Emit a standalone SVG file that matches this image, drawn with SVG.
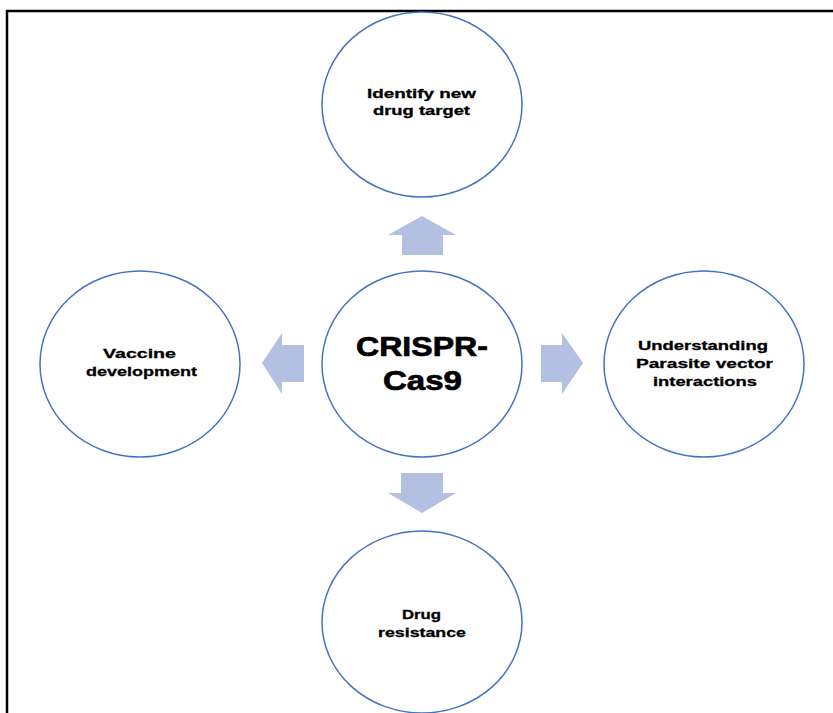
<svg xmlns="http://www.w3.org/2000/svg" width="833" height="713" viewBox="0 0 833 713">
<style>
.node{fill:#fff;stroke:#4472C4;stroke-width:1.5}
.arr{fill:#B3C0E2;stroke:none}
.t{font-family:"Liberation Sans",Arial,sans-serif;font-weight:bold;font-size:13.5px;fill:#000;stroke:#000;stroke-width:0.3}
.big{font-size:28px;stroke-width:0.7}
</style>
<rect x="0" y="0" width="833" height="713" fill="#fff"/>
<path d="M7,713 V11 H833" fill="none" stroke="#000" stroke-width="2.5"/>
<g id="connectors">
<path class="arr" d="M422,216 L456,235 L443,235 L443,255 L402,255 L402,235 L388,235 Z"/>
<path class="arr" d="M262,363 L282,333 L282,345 L304,345 L304,382 L282,382 L282,394 Z"/>
<path class="arr" d="M583,363 L562,333 L562,345 L541,345 L541,382 L562,382 L562,394 Z"/>
<path class="arr" d="M422,513 L456,493 L443,493 L443,473 L401,473 L401,493 L388,493 Z"/>
</g>
<g id="top">
<ellipse class="node" cx="422" cy="104.5" rx="100" ry="92.5"/>
<text class="t" x="367" y="98" textLength="109" lengthAdjust="spacingAndGlyphs">Identify new</text>
<text class="t" x="373" y="115" textLength="97" lengthAdjust="spacingAndGlyphs">drug target</text>
</g>
<g id="center">
<ellipse class="node" cx="422" cy="364" rx="100" ry="93"/>
<text class="t big" x="356" y="356" textLength="132" lengthAdjust="spacingAndGlyphs">CRISPR-</text>
<text class="t big" x="383" y="390" textLength="79" lengthAdjust="spacingAndGlyphs">Cas9</text>
</g>
<g id="left">
<ellipse class="node" cx="140" cy="364" rx="100" ry="93"/>
<text class="t" x="103" y="358" textLength="73" lengthAdjust="spacingAndGlyphs">Vaccine</text>
<text class="t" x="86" y="376" textLength="111" lengthAdjust="spacingAndGlyphs">development</text>
</g>
<g id="right">
<ellipse class="node" cx="704" cy="364" rx="100" ry="93"/>
<text class="t" x="638" y="350" textLength="130" lengthAdjust="spacingAndGlyphs">Understanding</text>
<text class="t" x="636" y="367.5" textLength="137" lengthAdjust="spacingAndGlyphs">Parasite vector</text>
<text class="t" x="653" y="385.5" textLength="104" lengthAdjust="spacingAndGlyphs">interactions</text>
</g>
<g id="bottom">
<ellipse class="node" cx="422" cy="622" rx="100" ry="91"/>
<text class="t" x="402" y="619" textLength="39" lengthAdjust="spacingAndGlyphs">Drug</text>
<text class="t" x="378" y="637" textLength="88" lengthAdjust="spacingAndGlyphs">resistance</text>
</g>
</svg>
